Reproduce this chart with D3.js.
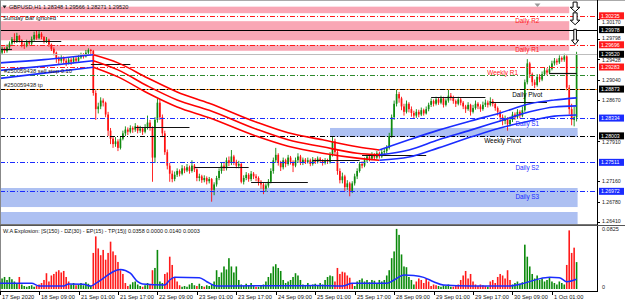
<!DOCTYPE html>
<html><head><meta charset="utf-8">
<script src="https://cdn.jsdelivr.net/npm/d3@7/dist/d3.min.js"></script>
<style>html,body{margin:0;padding:0;background:#fff;}svg{display:block;}</style>
</head><body>
<script>
// ---------------- DATA ----------------
const symbolTitle = "GBPUSD,H1  1.28348 1.29566 1.28271 1.29520";
const subTitle = "Sunday Bar ignored";
const indTitle = "W.A Explosion: [S(150) - DZ(30) - EP(15) - TP(15)] 0.0358 0.0000 0.0140 0.0003";
const priceRange = [1.26365, 1.30510];
const indRange = [0, 0.0825];

const open = [
1.2950,1.2955,1.2962,1.2958,1.2965,1.2972,1.2980,1.2975,1.2986,1.2978,
1.2970,1.2968,1.2975,1.2972,1.2980,1.2988,1.2982,1.2990,1.2984,1.2976,
1.2979,1.2970,1.2962,1.2955,1.2944,1.2940,1.2945,1.2940,1.2936,1.2942,
1.2938,1.2944,1.2940,1.2946,1.2950,1.2948,1.2955,1.2960,1.2958,1.2880,
1.2850,1.2855,1.2866,1.2862,1.2840,1.2810,1.2795,1.2785,1.2790,1.2778,
1.2795,1.2805,1.2812,1.2808,1.2815,1.2812,1.2818,1.2810,1.2814,1.2808,
1.2816,1.2825,1.2815,1.2760,1.2830,1.2862,1.2835,1.2805,1.2770,1.2745,
1.2730,1.2720,1.2728,1.2735,1.2730,1.2740,1.2736,1.2742,1.2735,1.2745,
1.2738,1.2722,1.2725,1.2718,1.2722,1.2716,1.2720,1.2700,1.2710,1.2722,
1.2735,1.2745,1.2740,1.2755,1.2750,1.2762,1.2752,1.2745,1.2748,1.2715,
1.2722,1.2728,1.2720,1.2730,1.2725,1.2722,1.2715,1.2710,1.2702,1.2708,
1.2715,1.2735,1.2755,1.2765,1.2750,1.2742,1.2755,1.2748,1.2760,1.2752,
1.2745,1.2755,1.2762,1.2750,1.2756,1.2752,1.2755,1.2748,1.2756,1.2752,
1.2758,1.2754,1.2750,1.2755,1.2752,1.2765,1.2790,1.2770,1.2735,1.2718,
1.2725,1.2705,1.2712,1.2698,1.2712,1.2725,1.2735,1.2748,1.2745,1.2755,
1.2762,1.2758,1.2765,1.2760,1.2768,1.2762,1.2770,1.2772,1.2778,1.2800,
1.2835,1.2860,1.2878,1.2870,1.2855,1.2845,1.2860,1.2850,1.2843,1.2838,
1.2845,1.2840,1.2848,1.2842,1.2850,1.2858,1.2865,1.2860,1.2868,1.2862,
1.2870,1.2858,1.2866,1.2875,1.2872,1.2865,1.2860,1.2868,1.2862,1.2855,
1.2850,1.2858,1.2845,1.2852,1.2860,1.2855,1.2850,1.2858,1.2862,1.2858,
1.2865,1.2860,1.2852,1.2845,1.2835,1.2828,1.2832,1.2822,1.2830,1.2840,
1.2835,1.2845,1.2838,1.2848,1.2900,1.2935,1.2915,1.2900,1.2895,1.2910,
1.2905,1.2915,1.2922,1.2918,1.2925,1.2935,1.2940,1.2937,1.2945,1.2942,
1.2948,1.2890,1.2850,1.2830,1.28348];
const high = [
1.2960,1.2966,1.2965,1.2970,1.2976,1.2984,1.2991,1.2992,1.2988,1.2980,
1.2974,1.2979,1.2978,1.2985,1.2994,1.2997,1.2995,1.2993,1.2986,1.2984,
1.2981,1.2972,1.2965,1.2957,1.2948,1.2950,1.2948,1.2944,1.2946,1.2945,
1.2948,1.2947,1.2950,1.2955,1.2954,1.2960,1.2963,1.2962,1.2960,1.2885,
1.2862,1.2872,1.2870,1.2864,1.2845,1.2815,1.2800,1.2798,1.2794,1.2800,
1.2810,1.2818,1.2816,1.2820,1.2818,1.2824,1.2820,1.2819,1.2817,1.2822,
1.2838,1.2830,1.2818,1.2835,1.2870,1.2868,1.2840,1.2810,1.2775,1.2750,
1.2736,1.2734,1.2740,1.2738,1.2746,1.2744,1.2748,1.2745,1.2755,1.2748,
1.2740,1.2730,1.2728,1.2727,1.2725,1.2724,1.2722,1.2714,1.2726,1.2740,
1.2750,1.2752,1.2760,1.2762,1.2774,1.2765,1.2756,1.2754,1.2750,1.2727,
1.2733,1.2731,1.2735,1.2733,1.2729,1.2725,1.2718,1.2713,1.2712,1.2720,
1.2740,1.2760,1.2778,1.2768,1.2754,1.2760,1.2758,1.2765,1.2763,1.2755,
1.2760,1.2768,1.2765,1.2760,1.2759,1.2760,1.2758,1.2761,1.2759,1.2762,
1.2761,1.2757,1.2759,1.2758,1.2770,1.2800,1.2795,1.2774,1.2740,1.2732,
1.2728,1.2718,1.2715,1.2716,1.2730,1.2740,1.2752,1.2753,1.2760,1.2766,
1.2765,1.2770,1.2768,1.2772,1.2771,1.2774,1.2777,1.2783,1.2806,1.2840,
1.2866,1.2886,1.2882,1.2873,1.2860,1.2866,1.2863,1.2855,1.2847,1.2850,
1.2849,1.2853,1.2851,1.2855,1.2862,1.2870,1.2868,1.2873,1.2871,1.2875,
1.2873,1.2870,1.2886,1.2880,1.2875,1.2868,1.2873,1.2871,1.2865,1.2858,
1.2863,1.2860,1.2858,1.2866,1.2863,1.2859,1.2864,1.2868,1.2866,1.2872,
1.2869,1.2863,1.2855,1.2848,1.2840,1.2838,1.2835,1.2836,1.2845,1.2844,
1.2850,1.2848,1.2855,1.2905,1.2943,1.2938,1.2918,1.2905,1.2915,1.2915,
1.2920,1.2928,1.2926,1.2931,1.2940,1.2945,1.2944,1.2950,1.2948,1.2953,
1.2950,1.2895,1.2860,1.2855,1.29566];
const low = [
1.2946,1.2952,1.2954,1.2955,1.2962,1.2968,1.2972,1.2973,1.2974,1.2965,
1.2962,1.2965,1.2968,1.2969,1.2977,1.2979,1.2980,1.2980,1.2972,1.2973,
1.2966,1.2958,1.2950,1.2936,1.2932,1.2936,1.2934,1.2930,1.2933,1.2932,
1.2935,1.2936,1.2938,1.2943,1.2944,1.2946,1.2952,1.2950,1.2875,1.2830,
1.2842,1.2850,1.2855,1.2835,1.2800,1.2785,1.2778,1.2780,1.2772,1.2775,
1.2792,1.2800,1.2802,1.2805,1.2806,1.2808,1.2805,1.2806,1.2802,1.2805,
1.2812,1.2810,1.2715,1.2750,1.2825,1.2830,1.2798,1.2765,1.2738,1.2715,
1.2714,1.2716,1.2724,1.2725,1.2727,1.2731,1.2733,1.2730,1.2732,1.2733,
1.2716,1.2716,1.2713,1.2714,1.2710,1.2712,1.2678,1.2690,1.2706,1.2718,
1.2730,1.2735,1.2736,1.2744,1.2746,1.2746,1.2740,1.2740,1.2712,1.2710,
1.2718,1.2715,1.2716,1.2720,1.2716,1.2708,1.2702,1.2692,1.2696,1.2704,
1.2712,1.2730,1.2750,1.2745,1.2735,1.2738,1.2742,1.2745,1.2747,1.2733,
1.2742,1.2750,1.2746,1.2746,1.2748,1.2749,1.2744,1.2745,1.2748,1.2749,
1.2750,1.2745,1.2747,1.2748,1.2749,1.2762,1.2765,1.2728,1.2712,1.2712,
1.2698,1.2700,1.2688,1.2694,1.2708,1.2720,1.2732,1.2740,1.2742,1.2751,
1.2753,1.2755,1.2756,1.2757,1.2758,1.2759,1.2766,1.2768,1.2775,1.2797,
1.2830,1.2855,1.2862,1.2848,1.2838,1.2842,1.2844,1.2836,1.2832,1.2834,
1.2835,1.2837,1.2838,1.2840,1.2846,1.2854,1.2855,1.2857,1.2858,1.2859,
1.2853,1.2855,1.2862,1.2866,1.2860,1.2854,1.2857,1.2857,1.2850,1.2843,
1.2847,1.2838,1.2842,1.2849,1.2850,1.2845,1.2847,1.2854,1.2853,1.2855,
1.2855,1.2847,1.2838,1.2828,1.2820,1.2822,1.2810,1.2818,1.2826,1.2830,
1.2832,1.2833,1.2835,1.2845,1.2896,1.2908,1.2893,1.2889,1.2892,1.2900,
1.2902,1.2912,1.2913,1.2915,1.2922,1.2931,1.2932,1.2934,1.2938,1.2938,
1.2885,1.2840,1.2820,1.2818,1.28271];
const close = [
1.2955,1.2962,1.2958,1.2965,1.2972,1.2980,1.2975,1.2986,1.2978,1.2970,
1.2968,1.2975,1.2972,1.2980,1.2988,1.2982,1.2990,1.2984,1.2976,1.2979,
1.2970,1.2962,1.2955,1.2944,1.2940,1.2945,1.2940,1.2936,1.2942,1.2938,
1.2944,1.2940,1.2946,1.2950,1.2948,1.2955,1.2960,1.2958,1.2880,1.2850,
1.2855,1.2866,1.2862,1.2840,1.2810,1.2795,1.2785,1.2790,1.2778,1.2795,
1.2805,1.2812,1.2808,1.2815,1.2812,1.2818,1.2810,1.2814,1.2808,1.2816,
1.2825,1.2815,1.2760,1.2830,1.2862,1.2835,1.2805,1.2770,1.2745,1.2730,
1.2720,1.2728,1.2735,1.2730,1.2740,1.2736,1.2742,1.2735,1.2745,1.2738,
1.2722,1.2725,1.2718,1.2722,1.2716,1.2720,1.2700,1.2710,1.2722,1.2735,
1.2745,1.2740,1.2755,1.2750,1.2762,1.2752,1.2745,1.2748,1.2715,1.2722,
1.2728,1.2720,1.2730,1.2725,1.2722,1.2715,1.2710,1.2702,1.2708,1.2715,
1.2735,1.2755,1.2765,1.2750,1.2742,1.2755,1.2748,1.2760,1.2752,1.2745,
1.2755,1.2762,1.2750,1.2756,1.2752,1.2755,1.2748,1.2756,1.2752,1.2758,
1.2754,1.2750,1.2755,1.2752,1.2765,1.2790,1.2770,1.2735,1.2718,1.2725,
1.2705,1.2712,1.2698,1.2712,1.2725,1.2735,1.2748,1.2745,1.2755,1.2762,
1.2758,1.2765,1.2760,1.2768,1.2762,1.2770,1.2772,1.2778,1.2800,1.2835,
1.2860,1.2878,1.2870,1.2855,1.2845,1.2860,1.2850,1.2843,1.2838,1.2845,
1.2840,1.2848,1.2842,1.2850,1.2858,1.2865,1.2860,1.2868,1.2862,1.2870,
1.2858,1.2866,1.2875,1.2872,1.2865,1.2860,1.2868,1.2862,1.2855,1.2850,
1.2858,1.2845,1.2852,1.2860,1.2855,1.2850,1.2858,1.2862,1.2858,1.2865,
1.2860,1.2852,1.2845,1.2835,1.2828,1.2832,1.2822,1.2830,1.2840,1.2835,
1.2845,1.2838,1.2848,1.2900,1.2935,1.2915,1.2900,1.2895,1.2910,1.2905,
1.2915,1.2922,1.2918,1.2925,1.2935,1.2940,1.2937,1.2945,1.2942,1.2948,
1.2890,1.2850,1.2830,1.2835,1.29520];

// W.A Explosion histogram buffers
const trendUp = [
.010,.014,.016,.012,.016,.013,.010,.008,0,.006,
.004,.003,.004,.005,.003,0,0,0,0,0,
0,0,0,0,0,0,0,0,0,.006,
.008,0,.006,.008,.005,.009,.007,.004,0,0,
0,0,0,0,0,0,0,0,0,0,
0,0,0,.006,.009,.010,.006,.004,0,.005,
.008,0,0,.028,.052,.010,.008,0,0,0,
0,0,0,0,.003,.004,.003,.006,.008,.005,
0,.007,.004,0,.005,.004,.006,.010,.025,.016,
.022,.030,.026,.041,.030,.022,.030,.012,.006,.004,
.007,.005,.008,.004,0,.003,.004,.006,.010,.016,
.021,.030,.033,.028,.024,.012,.008,.010,.012,.016,
.021,.018,.012,.006,.005,.008,.004,.006,.007,.004,
.008,.006,.012,.016,.018,.017,0,0,0,0,
0,0,0,0,.004,.010,.012,.014,.010,.012,
.009,.012,.011,.008,.012,.010,.012,.018,.025,.041,
.050,.080,.072,.046,.030,.029,.016,.012,.006,0,
0,0,0,0,0,0,0,0,.004,.003,
.005,.004,.006,.003,0,0,0,0,0,0,
0,0,0,0,0,0,0,0,.003,0,
0,0,0,0,0,0,0,0,.006,.008,
.010,.007,.009,.059,.043,.030,.020,.014,.018,.012,
.014,.010,.012,.015,.010,.008,.006,.010,.008,.006,
0,0,0,0,.0358];
const trendDown = [
0,0,0,0,0,0,0,0,.016,0,
0,0,0,0,0,.004,.006,.008,.012,.021,
.010,.018,.020,.023,.025,.022,.024,.016,.010,0,
0,.005,0,0,0,0,0,0,.048,.070,
.054,.045,.052,.039,.048,.063,.050,.045,.036,.025,
.020,.008,.004,0,0,0,0,0,.003,0,
0,.006,.025,0,0,0,0,.020,.022,.043,
.032,.016,.010,.005,0,0,0,0,0,0,
.004,0,0,.003,0,0,0,0,0,0,
0,0,0,0,0,0,0,0,0,0,
0,0,0,0,.003,0,0,0,0,0,
0,0,0,0,0,0,0,0,0,0,
0,0,0,0,0,0,0,0,0,0,
0,0,0,0,0,0,.010,.028,.020,.023,
.022,.018,.015,.008,0,0,0,0,0,0,
0,0,0,0,0,0,0,0,0,0,
0,0,0,0,0,0,0,0,0,.010,
.014,.012,.008,.014,.010,.004,.006,.005,0,0,
0,0,0,0,.003,.004,.006,.012,.018,.024,
.014,.020,.010,.006,.004,.006,.005,.004,0,.010,
.012,.008,.016,.020,.018,.014,.025,.012,0,0,
0,0,0,0,0,0,0,0,0,0,
0,0,0,0,0,0,0,0,0,0,
.032,.078,.048,.055,0];
// dead-zone line (read at sample bars)
const dzBars = [0,13,16,26,28,34,37,39,43,46,49,53,56,58,67,69,71,81,84,88,128,139,143,157,160,164,168,172,176,180,191,207,211,218,223,227,230,234];
const dzVals = [.0075,.0075,.004,.004,.0066,.0062,.004,.0075,.0164,.023,.026,.021,.0097,.0066,.0053,.012,.0155,.0151,.0097,.004,.0045,.004,.0075,.0075,.012,.0186,.018,.0155,.0097,.0053,.004,.004,.0062,.0128,.0155,.0151,.0097,.013];

// moving-average channel (read at sample bars)
const maBars  = [0,18,38,48,60,72,85,104,117,131,145,154,166,178,191,203,215,225,234];
const maUpper = [1.2936,1.2942,1.2951,1.2936,1.2908,1.2882,1.2861,1.2826,1.2806,1.2793,1.2780,1.2774,1.2793,1.2811,1.2828,1.2843,1.2860,1.2867,1.2871];
const maMid   = [1.2922,1.2930,1.2940,1.2923,1.2893,1.2867,1.2848,1.2813,1.2793,1.2780,1.2768,1.2765,1.2774,1.2793,1.2811,1.2828,1.2845,1.2854,1.2856];
const maLower = [1.2907,1.2917,1.2928,1.2910,1.2880,1.2854,1.2834,1.2800,1.2781,1.2768,1.2759,1.2755,1.2761,1.2778,1.2798,1.2815,1.2828,1.2837,1.2839];
const maTurnDownBar = 38, maTurnUpBar = 154;

// pivot levels
const levelNames  = ["Daily R2","Daily R1","Weekly R1","Daily Pivot","Daily S1","Weekly Pivot","Daily S2","Daily S3"];
const levelPrices = [1.30235,1.29696,1.29283,1.28873,1.28334,1.28003,1.27511,1.26972];
const levelKinds  = ["R","R","R","P","S","P","S","S"];
const hLinePrice = 1.29978, bidPrice = 1.29520, sellStopPrice = 1.29135, tpPrice = 1.28873;
const orderLabels = ["#250059438 sell stop 0.10", "#250059438 tp"];

// zones
const pinkLow  = [1.30283,1.29780,1.29585], pinkHigh = [1.30405,1.30135,1.29690], pinkEndBar = 231;
const blueLow  = [1.27982,1.26680,1.26300], blueHigh = [1.28150,1.27034,1.26588], blueStartBar = [134,0,0], blueEndBar = 234;

// daily range segments
const segStart = [0,5,37,55,79,102,127,147,175,199,223];
const segEnd   = [5,25,53,77,101,125,146,173,197,222,234];
const segPrice = [1.2961,1.2977,1.2934,1.2817,1.2742,1.2715,1.2755,1.2765,1.2873,1.2863,1.2917];

// arrows (top price, tip price)
const arrowTop = [1.30490,1.30290,1.29985], arrowTip = [1.30310,1.30070,1.29700];

// axes
const yTicks = [1.30170,1.29798,1.29428,1.29040,1.28670,1.27910,1.27160,1.26780,1.26410];
const boxPrices = [1.30235,1.29978,1.29696,1.29520,1.29283,1.28873,1.28334,1.28003,1.27511,1.26972];
const boxKinds  = ["R","K","R","K","R","K","S","K","S","S"];
const timeLabels = ["17 Sep 2020","18 Sep 09:00","21 Sep 01:00","21 Sep 17:00","22 Sep 09:00","23 Sep 01:00","23 Sep 17:00","24 Sep 09:00","25 Sep 01:00","25 Sep 17:00","28 Sep 09:00","29 Sep 01:00","29 Sep 17:00","30 Sep 09:00","1 Oct 01:00"];
const timeLabelBars = [0,16,32,48,64,80,96,112,128,144,160,176,192,208,224];

// ---------------- DRAW ----------------
const FONT = '"Liberation Sans", Arial, sans-serif';
const W = 625, H = 305, R = 597, MT = 1, MB = 224, IT = 226, IB = 291;
const RED = "#ff1a1a", BLUE = "#1a2cff", BLACK = "#000", BULL = "#0f8a0f", BEAR = "#ff1010";
const kindColor = {R: RED, P: BLACK, S: BLUE, K: BLACK};
const DD = "5,2,1,2";

const svg = d3.select("body").append("svg").attr("width", W).attr("height", H).style("font-family", FONT);
svg.append("rect").attr("width", W).attr("height", H).attr("fill", "#fff");
const x = d3.scaleLinear().domain([0, 234]).range([-0.4, 576.6]);
const y = d3.scaleLinear().domain(priceRange).range([MB, MT]);
const yi = d3.scaleLinear().domain(indRange).range([289, 227]);

svg.append("clipPath").attr("id", "cm").append("rect").attr("x", 0).attr("y", MT).attr("width", R).attr("height", MB - MT);
svg.append("clipPath").attr("id", "ci").append("rect").attr("x", 0).attr("y", IT).attr("width", R).attr("height", IB - IT);
const main = svg.append("g").attr("clip-path", "url(#cm)");

// zones
pinkLow.forEach((lo, k) => main.append("rect").attr("x", 0).attr("width", x(pinkEndBar)).attr("y", y(pinkHigh[k])).attr("height", y(lo) - y(pinkHigh[k])).attr("fill", "#f9a7b5"));
blueLow.forEach((lo, k) => main.append("rect").attr("x", Math.max(0, x(blueStartBar[k]))).attr("width", x(blueEndBar) + 1 - Math.max(0, x(blueStartBar[k]))).attr("y", y(blueHigh[k])).attr("height", y(lo) - y(blueHigh[k])).attr("fill", "#adc0f2"));

// candles
const gc = main.append("g");
close.forEach((c, i) => {
  const o = open[i], col = c >= o ? BULL : BEAR, xc = x(i);
  gc.append("rect").attr("x", xc - 0.45).attr("width", 0.9).attr("y", y(high[i])).attr("height", Math.max(0.8, y(low[i]) - y(high[i]))).attr("fill", col);
  const yt = y(Math.max(o, c)), yb = y(Math.min(o, c));
  gc.append("rect").attr("x", xc - 0.85).attr("width", 1.7).attr("y", yt).attr("height", Math.max(0.8, yb - yt)).attr("fill", col);
});

// horizontal lines
function hline(p, color, dash, w) {
  const yy = Math.round(y(p)) + 0.5;
  main.append("line").attr("x1", 0).attr("x2", R).attr("y1", yy).attr("y2", yy)
    .attr("stroke", color).attr("stroke-width", w || 1).attr("stroke-dasharray", dash || null);
}
hline(bidPrice, "#bdbdbd");
hline(hLinePrice, BLACK);
hline(sellStopPrice, "#2e8b2e", DD);
hline(tpPrice, "#ff8c1a", null);
levelPrices.forEach((p, k) => hline(p, kindColor[levelKinds[k]], DD));

// daily range segments
segStart.forEach((s, k) => {
  const yy = Math.round(y(segPrice[k])) + 0.5;
  main.append("line").attr("x1", x(s)).attr("x2", x(segEnd[k])).attr("y1", yy).attr("y2", yy).attr("stroke", "#111").attr("stroke-width", 1.2);
});

// MA channel
function maSeg(arr, from, to, color) {
  const pts = maBars.map((b, k) => [b, arr[k]]).filter(d => d[0] >= from && d[0] <= to);
  main.append("path").attr("d", d3.line().x(d => x(d[0])).y(d => y(d[1])).curve(d3.curveMonotoneX)(pts))
    .attr("fill", "none").attr("stroke", color).attr("stroke-width", 1.6);
}
[maUpper, maMid, maLower].forEach(a => {
  maSeg(a, 0, maTurnDownBar, BLUE);
  maSeg(a, maTurnDownBar, maTurnUpBar, "#ff0000");
  maSeg(a, maTurnUpBar, 234, BLUE);
});

// level labels
levelNames.forEach((n, k) => {
  const weekly = n.startsWith("Weekly");
  main.append("text").attr("x", x(weekly ? 204 : 214)).attr("y", y(levelPrices[k]) + 7.5)
    .attr("text-anchor", "middle").attr("font-size", 6.4).attr("fill", kindColor[levelKinds[k]]).text(n);
});
main.append("text").attr("x", 4).attr("y", y(sellStopPrice) - 1.5).attr("font-size", 5.8).attr("fill", "#222").text(orderLabels[0]);
main.append("text").attr("x", 4).attr("y", y(tpPrice) - 2).attr("font-size", 5.8).attr("fill", "#222").text(orderLabels[1]);

// arrows
arrowTop.forEach((t, k) => {
  const cx = x(234) - 1.5, yt = y(t), yp = y(arrowTip[k]), hw = k === 2 ? 3.5 : 4.8, sw = k === 2 ? 1.3 : 2;
  const hh = Math.min(4.5, (yp - yt) * 0.5);
  const d = `M${cx - sw},${yt}L${cx + sw},${yt}L${cx + sw},${yp - hh}L${cx + hw},${yp - hh}L${cx},${yp}L${cx - hw},${yp - hh}L${cx - sw},${yp - hh}Z`;
  main.append("path").attr("d", d).attr("fill", "#fff").attr("stroke", "#000").attr("stroke-width", 1);
});

// titles
svg.append("path").attr("d", "M2.5,5.5L6.5,5.5L4.5,8.5Z").attr("fill", "#222");
svg.append("text").attr("x", 9).attr("y", 9).attr("font-size", 5.6).attr("fill", "#111").text(symbolTitle);
svg.append("text").attr("x", 3).attr("y", 19.5).attr("font-size", 6).attr("fill", "#111").text(subTitle);
svg.append("path").attr("d", "M534.5,3.5L540.5,3.5L537.5,7Z").attr("fill", "#999");

// frames
svg.append("line").attr("x1", 0).attr("x2", W).attr("y1", 0.5).attr("y2", 0.5).attr("stroke", "#aaa");
svg.append("line").attr("x1", 0.5).attr("x2", 0.5).attr("y1", 0).attr("y2", IB).attr("stroke", "#888");
svg.append("line").attr("x1", R + 0.5).attr("x2", R + 0.5).attr("y1", 0).attr("y2", IB + 1).attr("stroke", "#000");
svg.append("line").attr("x1", 0).attr("x2", R).attr("y1", MB + 0.5).attr("y2", MB + 0.5).attr("stroke", "#777");
svg.append("line").attr("x1", 0).attr("x2", W).attr("y1", IT - 0.5).attr("y2", IT - 0.5).attr("stroke", "#555");
svg.append("line").attr("x1", 0).attr("x2", R).attr("y1", IB + 0.5).attr("y2", IB + 0.5).attr("stroke", "#000");

// right price axis: grey tick labels are nudged clear of the coloured price boxes
const boxY = boxPrices.map(p => y(p));
yTicks.forEach(p => {
  const yy = y(p);
  let c = yy;
  boxY.forEach(b => { const d = c - b; if (Math.abs(d) < 6.6) c = b + (d >= 0 ? 6.6 : -6.6); });
  svg.append("line").attr("x1", R).attr("x2", R + 3).attr("y1", Math.round(yy) + 0.5).attr("y2", Math.round(yy) + 0.5).attr("stroke", "#000");
  svg.append("text").attr("x", 602).attr("y", c + 1.9).attr("font-size", 5.2).attr("fill", "#222").text(p.toFixed(5));
});
boxPrices.forEach((p, k) => {
  const yy = boxY[k];
  svg.append("rect").attr("x", 599).attr("y", yy - 3.5).attr("width", 25).attr("height", 7).attr("fill", kindColor[boxKinds[k]]);
  svg.append("text").attr("x", 601).attr("y", yy + 1.9).attr("font-size", 5.2).attr("fill", "#fff").text(p.toFixed(5));
});

// indicator
const ind = svg.append("g").attr("clip-path", "url(#ci)");
trendUp.forEach((v, i) => {
  const d = v > 0 ? v : trendDown[i], col = v > 0 ? "#0b8a0b" : "#ff1a1a";
  if (d <= 0) return;
  ind.append("rect").attr("x", x(i) - 0.8).attr("width", 1.6).attr("y", yi(d)).attr("height", yi(0) - yi(d)).attr("fill", col);
});
ind.append("path").attr("d", d3.line().x((b, k) => x(b)).y((b, k) => yi(dzVals[k])).curve(d3.curveMonotoneX)(dzBars))
  .attr("fill", "none").attr("stroke", "#1a2cff").attr("stroke-width", 1.5);
svg.append("text").attr("x", 3).attr("y", 233).attr("font-size", 5.5).attr("fill", "#111").text(indTitle);
svg.append("text").attr("x", 602).attr("y", 231).attr("font-size", 5.5).attr("fill", "#222").text(indRange[1].toFixed(4));
svg.append("text").attr("x", 602).attr("y", 289).attr("font-size", 5.5).attr("fill", "#222").text("0");

// time axis
timeLabelBars.forEach((b, k) => {
  const xx = Math.round(x(b)) + 0.5;
  svg.append("line").attr("x1", xx).attr("x2", xx).attr("y1", IB).attr("y2", IB + 4).attr("stroke", "#000");
  svg.append("text").attr("x", xx + 1.5).attr("y", 298.5).attr("font-size", 5.7).attr("fill", "#111").text(timeLabels[k]);
});
</script>
</body></html>
